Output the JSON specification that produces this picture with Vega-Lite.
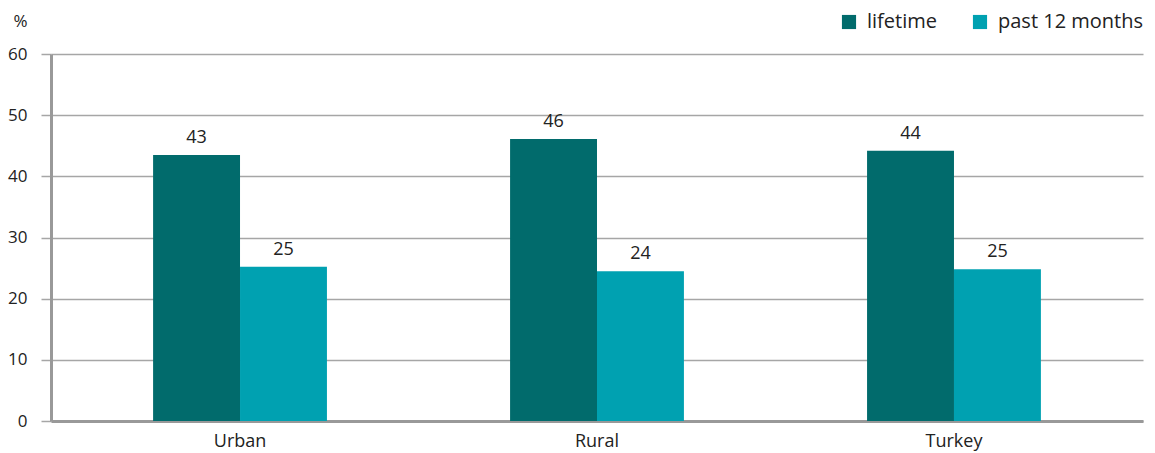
{
  "$schema": "https://vega.github.io/schema/vega-lite/v6.json",
  "width": 1092,
  "height": 367,
  "autosize": {"type": "none"},
  "padding": {"left": 51, "top": 54, "right": 12, "bottom": 32},
  "background": "white",
  "config": {
    "font": "Open Sans",
    "view": {"stroke": null},
    "axis": {"labelFont": "Open Sans", "labelColor": "#222", "labelFontSize": 16, "titleFont": "Open Sans"},
    "legend": {"labelFont": "Open Sans"}
  },
  "data": {
    "values": [
      {"area": "Urban", "period": "lifetime", "value": 43.5, "label": "43"},
      {"area": "Urban", "period": "past 12 months", "value": 25.2, "label": "25"},
      {"area": "Rural", "period": "lifetime", "value": 46.1, "label": "46"},
      {"area": "Rural", "period": "past 12 months", "value": 24.5, "label": "24"},
      {"area": "Turkey", "period": "lifetime", "value": 44.2, "label": "44"},
      {"area": "Turkey", "period": "past 12 months", "value": 24.8, "label": "25"}
    ]
  },
  "encoding": {
    "x": {
      "field": "area", "type": "nominal", "sort": ["Urban", "Rural", "Turkey"],
      "scale": {"paddingInner": 0.513, "paddingOuter": 0.286},
      "axis": {"title": null, "labelAngle": 0, "ticks": false, "labelPadding": 11, "domainColor": "#999", "domainWidth": 3, "labelFontSize": 18}
    },
    "xOffset": {"field": "period", "type": "nominal", "sort": ["lifetime", "past 12 months"]},
    "y": {
      "field": "value", "type": "quantitative",
      "scale": {"domain": [0, 60]},
      "axis": {
        "values": [0, 10, 20, 30, 40, 50, 60],
        "title": "%", "titleAngle": 0, "titleAlign": "left", "titleBaseline": "middle",
        "titleX": -38, "titleY": -33, "titleFontSize": 17, "titleFontWeight": "normal", "titleColor": "#222",
        "grid": true, "gridColor": "#a6a6a6", "gridWidth": 1.5,
        "tickColor": "#a6a6a6", "tickSize": 10, "tickWidth": 1.5,
        "domainColor": "#999", "domainWidth": 3,
        "labelPadding": 14, "labelFontSize": 17
      }
    }
  },
  "layer": [
    {
      "mark": {"type": "bar"},
      "encoding": {
        "color": {
          "field": "period", "type": "nominal",
          "scale": {"domain": ["lifetime", "past 12 months"], "range": ["#016b6c", "#00a1b1"]},
          "legend": {
            "title": null, "orient": "none", "direction": "horizontal",
            "legendX": 788, "legendY": -42,
            "symbolType": "square", "symbolSize": 200, "symbolStrokeWidth": 0,
            "labelFontSize": 20, "labelColor": "#222", "labelOffset": 8, "columnPadding": 33
          }
        }
      }
    },
    {
      "mark": {"type": "text", "baseline": "alphabetic", "dy": -12, "fontSize": 18, "color": "#222", "font": "Open Sans"},
      "encoding": {"text": {"field": "label"}}
    }
  ]
}
